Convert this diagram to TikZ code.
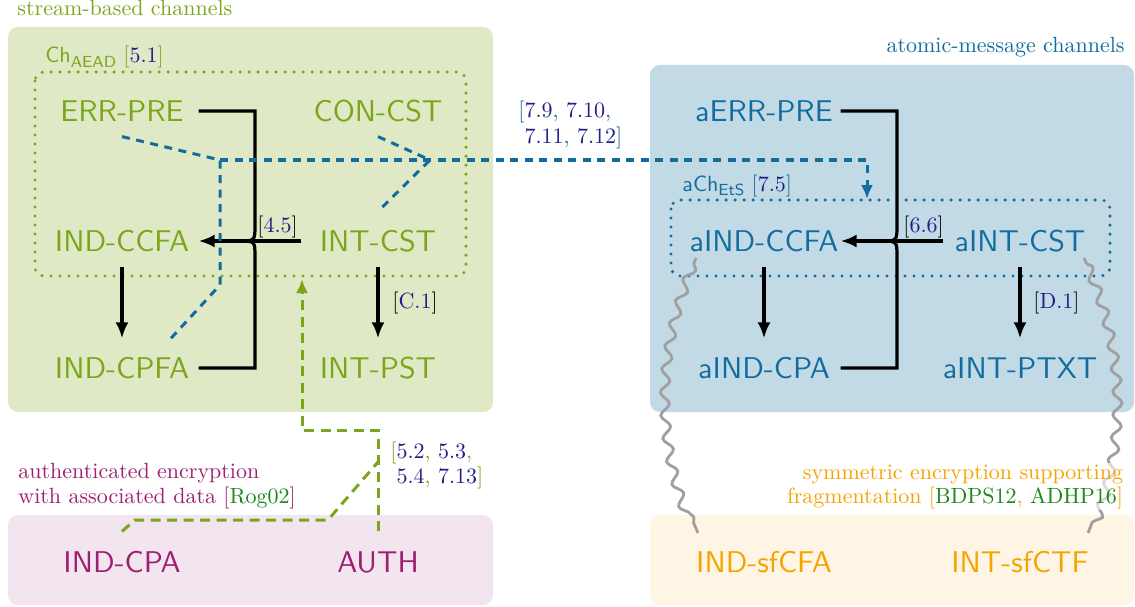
\documentclass[tikz,border=0pt]{standalone}
\usetikzlibrary{arrows.meta,decorations.pathmorphing}
\definecolor{gr}{RGB}{122,166,26}
\definecolor{grbg}{RGB}{223,233,197}
\definecolor{bl}{RGB}{18,108,158}
\definecolor{blbg}{RGB}{193,218,230}
\definecolor{mg}{RGB}{158,30,112}
\definecolor{mgbg}{RGB}{243,229,239}
\definecolor{og}{RGB}{245,163,0}
\definecolor{ogbg}{RGB}{255,245,228}
\definecolor{navy}{RGB}{30,30,135}
\definecolor{dg}{RGB}{25,135,25}
\definecolor{wv}{RGB}{160,160,160}
\newcommand{\nv}[1]{\textcolor{navy}{#1}}
\newcommand{\dgr}[1]{\textcolor{dg}{#1}}
\newcommand{\subsf}[1]{\raisebox{-2.2pt}{\fontsize{7.3}{8}\selectfont #1}}
\tikzset{
  nd/.style={font=\fontsize{10}{12}\selectfont\sffamily, scale=3, minimum width=50.67pt, minimum height=16.67pt, inner sep=0pt},
  lb/.style={font=\fontsize{10}{11.4}\selectfont, scale=2.2, inner sep=0pt},
  blk/.style={line width=3.2pt, black},
  arr/.style={-{Latex[length=16pt,width=13pt]}},
  bdash/.style={line width=3pt, bl, dash pattern=on 8pt off 6.5pt},
  gdash/.style={line width=3pt, gr, dash pattern=on 10pt off 6.5pt},
  dotb/.style={line width=3.4pt, dash pattern=on 0pt off 9pt, line cap=round, rounded corners=9pt},
  wavy/.style={line width=2.8pt, wv, decorate, decoration={snake, amplitude=4.5pt, segment length=23pt, pre length=5pt, post length=5pt}},
  bgbox/.style={rounded corners=10pt},
}
\begin{document}
\begin{tikzpicture}[x=1pt,y=-1pt]
\useasboundingbox (0,0) rectangle (1135,607);
% backgrounds
\fill[grbg,bgbox] (8,27) rectangle (493,412);
\fill[blbg,bgbox] (650,65) rectangle (1134,412);
\fill[mgbg,bgbox] (8,515) rectangle (493,605);
\fill[ogbg,bgbox] (650,515) rectangle (1134,605);
% titles
\node[lb,text=gr,anchor=base west] (t1) at (17,16) {stream-based channels};
\node[lb,text=bl,anchor=base east] (t2) at (1125,53) {atomic-message channels};
\node[lb,anchor=base west] (chaead) at (45,63) {\textcolor{gr}{\sffamily Ch\subsf{AEAD}} \textcolor{gr}{[}\nv{5.1}\textcolor{gr}{]}};
\node[lb,anchor=base west] (chets) at (682,191) {\textcolor{bl}{\sffamily aCh\subsf{EtS}} \textcolor{bl}{[}\nv{7.5}\textcolor{bl}{]}};
% dotted boxes
\draw[dotb,gr] (35,72) rectangle (466,276);
\draw[dotb,bl] (671,200) rectangle (1110,276);
% nodes
\node[nd,text=gr] (errpre) at (122,111) {ERR-PRE};
\node[nd,text=gr] (concst) at (378,111) {CON-CST};
\node[nd,text=gr] (indccfa) at (122,241) {IND-CCFA};
\node[nd,text=gr] (intcst) at (378,241) {INT-CST};
\node[nd,text=gr] (indcpfa) at (122,368) {IND-CPFA};
\node[nd,text=gr] (intpst) at (378,368) {INT-PST};
\node[nd,text=bl] (aerrpre) at (764,111) {aERR-PRE};
\node[nd,text=bl] (aindccfa) at (764,241) {aIND-CCFA};
\node[nd,text=bl] (aintcst) at (1020,241) {aINT-CST};
\node[nd,text=bl] (aindcpa) at (764,368) {aIND-CPA};
\node[nd,text=bl] (aintptxt) at (1020,368) {aINT-PTXT};
\node[nd,text=mg] (indcpa) at (122,562) {IND-CPA};
\node[nd,text=mg] (auth) at (378,562) {AUTH};
\node[nd,text=og] (indsfcfa) at (764,562) {IND-sfCFA};
\node[nd,text=og] (intsfctf) at (1020,562) {INT-sfCTF};
% black implications, stream side
\draw[blk] (errpre.east) -- (255,111) -- (255,225) .. controls (255,241) .. (239,241);
\draw[blk] (indcpfa.east) -- (255,368) -- (255,257) .. controls (255,241) .. (239,241);
\draw[blk,arr] (intcst.west) -- (indccfa.east);
\node[lb,anchor=base west] (l45) at (257,232) {[\nv{4.5}]};
\draw[blk,arr] (indccfa.south) -- ([yshift=4pt]indcpfa.north);
\draw[blk,arr] (intcst.south) -- ([yshift=4pt]intpst.north);
\node[lb,anchor=base west] (lc1) at (392,308) {[\nv{C.1}]};
% black implications, atomic side
\draw[blk] (aerrpre.east) -- (897,111) -- (897,225) .. controls (897,241) .. (881,241);
\draw[blk] (aindcpa.east) -- (897,368) -- (897,257) .. controls (897,241) .. (881,241);
\draw[blk,arr] (aintcst.west) -- (aindccfa.east);
\node[lb,anchor=base west] (l66) at (903,232) {[\nv{6.6}]};
\draw[blk,arr] (aindccfa.south) -- ([yshift=4pt]aindcpa.north);
\draw[blk,arr] (aintcst.south) -- ([yshift=4pt]aintptxt.north);
\node[lb,anchor=base west] (ld1) at (1033,308) {[\nv{D.1}]};
% blue dashed
\coordinate (bj) at (220,160);
\coordinate (cj) at (430,160);
\coordinate (achin) at (867,199);
\draw[bdash] (errpre.south) -- (bj) -- (220,285) -- ([xshift=48pt,yshift=3pt]indcpfa.north);
\draw[bdash] (concst.south) -- (cj) -- ([yshift=4pt]intcst.north);
\draw[bdash,-{Latex[length=14pt,width=12pt]}] (bj) -- (867,160) -- (achin);
\node[lb,anchor=base west] (l79a) at (518,118) {\textcolor{bl}{[}\nv{7.9}\textcolor{bl}{,} \nv{7.10}\textcolor{bl}{,}};
\node[lb,anchor=base west] (l79b) at (518,143) {\phantom{[}\nv{7.11}\textcolor{bl}{,} \nv{7.12}\textcolor{bl}{]}};
% green dashed
\coordinate (gj) at (378,462);
\coordinate (chin) at (302,279);
\draw[gdash] ([yshift=5pt]indcpa.north) -- (135,520) -- (328,520) -- (gj);
\draw[gdash,-{Latex[length=14pt,width=12pt]}] ([yshift=5pt]auth.north) -- (378,430) -- (302,430) -- (chin);
\node[lb,anchor=base west] (l52a) at (390,458) {\textcolor{gr}{[}\nv{5.2}\textcolor{gr}{,} \nv{5.3}\textcolor{gr}{,}};
\node[lb,anchor=base west] (l52b) at (390,483) {\phantom{[}\nv{5.4}\textcolor{gr}{,} \nv{7.13}\textcolor{gr}{]}};
% wavy correspondences
\coordinate (w1a) at (696,258);
\coordinate (w1b) at (698,533);
\coordinate (w2a) at (1084,258);
\coordinate (w2b) at (1088,533);
\draw[wavy] (w1a) .. controls (657,350) and (657,440) .. (w1b);
\draw[wavy] (w2a) .. controls (1125,350) and (1125,440) .. (w2b);
% bottom captions
\node[lb,text=mg,anchor=base west] (ae1) at (18,478) {authenticated encryption};
\node[lb,text=mg,anchor=base west] (ae2) at (18,503) {with associated data [\dgr{Rog02}]};
\node[lb,text=og,anchor=base east,fill=white,fill opacity=0.6,text opacity=1,inner sep=0.7pt] (se1) at (1125,479) {symmetric encryption supporting};
\node[lb,text=og,anchor=base east,fill=white,fill opacity=0.6,text opacity=1,inner sep=0.7pt] (se2) at (1125,503) {fragmentation [\dgr{BDPS12}, \dgr{ADHP16}]};
\end{tikzpicture}
\end{document}
